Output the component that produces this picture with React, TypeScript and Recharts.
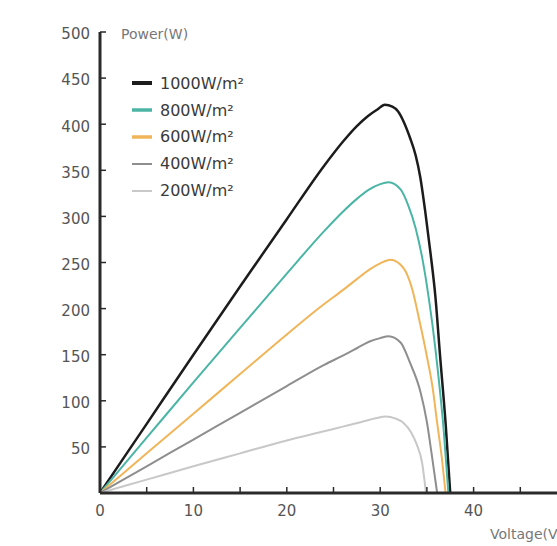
import React from 'react';
import { LineChart, Line, XAxis, YAxis, Legend } from 'recharts';

const seriesNames = ['1000W/m²', '800W/m²', '600W/m²', '400W/m²', '200W/m²'];

const voltage1000 = [0, 5, 10, 15, 20, 24, 26, 27.5, 28.7, 29.7, 30.5, 31.3, 31.9, 32.5, 33.2, 33.8, 34.3, 34.8, 35.4, 35.9, 36.4, 37.0, 37.5];
const power1000 = [0, 75, 150, 224, 297, 355, 381, 398, 409, 416, 421, 419, 414, 403, 385, 366, 342, 307, 259, 214, 150, 76, 0];

const voltage800 = [0, 5, 10, 15, 20, 24, 26, 27.5, 28.8, 30, 30.9, 32.2, 33.0, 33.8, 34.5, 35.0, 35.6, 36.2, 36.8, 37.3];
const power800 = [0, 60, 120, 179, 238, 284, 305, 319, 329, 335, 337, 329, 312, 287, 255, 225, 182, 130, 68, 0];

const voltage600 = [0, 5, 10, 15, 20, 24, 26, 27.5, 28.8, 30, 31.1, 32.5, 33.4, 34.2, 35.0, 35.6, 36.1, 36.6, 37.0];
const power600 = [0, 43, 86, 129, 172, 205, 220, 232, 242, 249, 253, 244, 222, 187, 148, 115, 76, 38, 0];

const voltage400 = [0, 5, 10, 15, 20, 24, 26, 27.5, 28.8, 30, 30.9, 32.2, 33.2, 34.3, 35.0, 35.5, 36.1];
const power400 = [0, 29, 58, 87, 116, 139, 149, 157, 164, 168, 170, 163, 141, 110, 77, 43, 0];

const voltage200 = [0, 5, 10, 15, 20, 24, 26, 28, 29.5, 30.6, 31.6, 32.5, 33.3, 33.9, 34.5, 34.9];
const power200 = [0, 14.5, 29, 43, 57, 67, 72, 77, 81, 83, 81, 76, 66, 53, 32, 0];

const xTicks = [0, 5, 10, 15, 20, 25, 30, 35, 40, 45, 50];
const xTickLabels = ['0', '10', '20', '30', '40'];
const yTicks = [50, 100, 150, 200, 250, 300, 350, 400, 450, 500];

const colors = ['#1c1c1c', '#4bb5a5', '#f1b559', '#8e8e8e', '#c8c8c8'];
const lineWidths = [2.5, 2, 2, 2, 2];
const legendWidths = [4, 3.5, 3.5, 2, 2];

const toPoints = (v: number[], p: number[]) => v.map((x, i) => ({ v: x, p: p[i] }));

const series = [
  toPoints(voltage1000, power1000),
  toPoints(voltage800, power800),
  toPoints(voltage600, power600),
  toPoints(voltage400, power400),
  toPoints(voltage200, power200),
];

const FONT = '"DejaVu Sans", Verdana, sans-serif';

const renderLegend = () => (
  <div style={{ fontFamily: FONT }}>
    {seriesNames.map((name, i) => (
      <div key={name} style={{ height: 26.8, display: 'flex', alignItems: 'center' }}>
        <svg width={28} height={10} style={{ display: 'block' }}>
          <line x1={4} x2={24} y1={5} y2={5} stroke={colors[i]} strokeWidth={legendWidths[i]} />
        </svg>
        <span style={{ fontSize: 16, color: '#3a3a3a', marginLeft: 4 }}>{name}</span>
      </div>
    ))}
  </div>
);

const yLabel = (props: any) => {
  const vb = props.viewBox || {};
  return (
    <text x={(vb.x || 0) + (vb.width || 0) + 21} y={(vb.y || 0) + 7} fontSize={14} fill="#777" fontFamily={FONT}>
      Power(W)
    </text>
  );
};

const xLabel = (props: any) => {
  const vb = props.viewBox || {};
  return (
    <text x={490} y={(vb.y || 0) + 46} fontSize={14} fill="#777" fontFamily={FONT}>
      Voltage(V)
    </text>
  );
};

export default function App() {
  return (
    <div style={{ position: 'absolute', left: 0, top: 0, width: 557, height: 546, overflow: 'hidden', background: '#fff' }}>
      <LineChart width={620} height={546} margin={{ top: 32, right: 53, bottom: 0, left: 40 }}>
        <XAxis
          type="number"
          dataKey="v"
          domain={[0, 50]}
          ticks={xTicks}
          interval={0}
          tickFormatter={(v: number) => (xTickLabels.includes(String(v)) ? String(v) : '')}
          height={53}
          axisLine={{ stroke: '#2a2a2a', strokeWidth: 3 }}
          tickLine={{ stroke: '#2a2a2a', strokeWidth: 1.5 }}
          tickSize={-6}
          tickMargin={18}
          tick={{ fill: '#555', fontSize: 15, fontFamily: FONT }}
          label={{ content: xLabel }}
          allowDataOverflow
        />
        <YAxis
          type="number"
          dataKey="p"
          domain={[0, 500]}
          ticks={yTicks}
          interval={0}
          width={60}
          axisLine={{ stroke: '#2a2a2a', strokeWidth: 3 }}
          tickLine={{ stroke: '#2a2a2a', strokeWidth: 1.5 }}
          tickSize={-6}
          tickMargin={16}
          tick={{ fill: '#555', fontSize: 15, fontFamily: FONT, dy: 2 }}
          label={{ content: yLabel }}
        />
        {series.map((d, i) => (
          <Line
            key={seriesNames[i]}
            data={d}
            dataKey="p"
            name={seriesNames[i]}
            type="monotone"
            stroke={colors[i]}
            strokeWidth={lineWidths[i]}
            dot={false}
            activeDot={false}
            isAnimationActive={false}
          />
        ))}
        <Legend
          content={renderLegend}
          layout="vertical"
          align="center"
          verticalAlign="middle"
          wrapperStyle={{ left: 128, top: 70, width: 160 }}
        />
      </LineChart>
    </div>
  );
}
